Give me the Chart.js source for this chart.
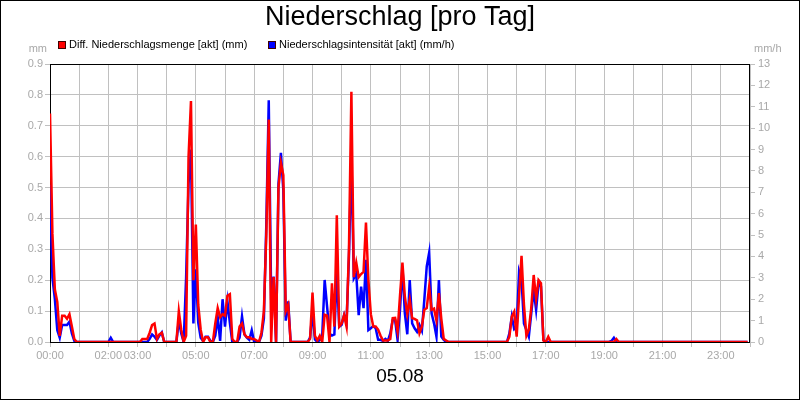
<!DOCTYPE html>
<html lang="de">
<head>
<meta charset="utf-8">
<title>Niederschlag [pro Tag]</title>
<script src="https://cdn.jsdelivr.net/npm/chart.js@4.4.1/dist/chart.umd.min.js"></script>
<style>
  html, body { margin: 0; padding: 0; background: #fff; }
  canvas { display: block; }
</style>
</head>
<body>
<canvas id="rainChart" width="800" height="400"></canvas>
<script>
// ===== Data (one value every 5 minutes, 05.08) =====
const chartTitle = "Niederschlag [pro Tag]";
const dayLabel = "05.08";
const stepMinutes = 5;
const seriesNames = ["Diff. Niederschlagsmenge [akt] (mm)", "Niederschlagsintensität [akt] (mm/h)"];
const shownHours = ["00:00", "02:00", "03:00", "05:00", "07:00", "09:00", "11:00",
                    "13:00", "15:00", "17:00", "19:00", "21:00", "23:00"];

// mm per 5 minutes (left axis), one row per hour
const diffAmountMm = [
    0.74, 0.35, 0.17, 0.13, 0.02, 0.085, 0.085, 0.075, 0.09, 0.05, 0.01, 0,
    0, 0, 0, 0, 0, 0, 0, 0, 0, 0, 0, 0,
    0, 0, 0, 0, 0, 0, 0, 0, 0, 0, 0, 0,
    0, 0, 0.01, 0.01, 0.01, 0.03, 0.055, 0.06, 0.01, 0.025, 0.03, 0,
    0, 0, 0, 0, 0, 0.1, 0.04, 0, 0.02, 0.6, 0.78, 0.2,
    0.38, 0.12, 0.04, 0, 0.015, 0.015, 0, 0, 0.06, 0.11, 0.08, 0.09,
    0.085, 0.15, 0.155, 0.01, 0, 0, 0.05, 0.06, 0.025, 0.015, 0.015, 0.01,
    0.01, 0.005, 0, 0.03, 0.1, 0.35, 0.72, 0, 0.21, 0, 0.5, 0.58,
    0.54, 0.1, 0.12, 0, 0, 0, 0, 0, 0, 0, 0, 0.01,
    0.16, 0.02, 0.005, 0.02, 0, 0.088, 0.085, 0, 0.19, 0.05, 0.41, 0.05,
    0.06, 0.087, 0.05, 0.3, 0.81, 0.21, 0.257, 0.21, 0.22, 0.227, 0.387, 0.2,
    0.09, 0.05, 0.05, 0.04, 0.02, 0.005, 0.005, 0.005, 0.01, 0.077, 0.078, 0.034,
    0.15, 0.257, 0.147, 0.09, 0.137, 0.077, 0.075, 0.07, 0.028, 0.05, 0.104, 0.11,
    0.179, 0.104, 0.108, 0.07, 0.158, 0.075, 0.01, 0.005, 0, 0, 0, 0,
    0, 0, 0, 0, 0, 0, 0, 0, 0, 0, 0, 0,
    0, 0, 0, 0, 0, 0, 0, 0, 0, 0.017, 0.082, 0.098,
    0.017, 0.15, 0.279, 0.12, 0.02, 0.04, 0.11, 0.217, 0.14, 0.2, 0.19, 0.005,
    0, 0.017, 0, 0, 0, 0, 0, 0, 0, 0, 0, 0,
    0, 0, 0, 0, 0, 0, 0, 0, 0, 0, 0, 0,
    0, 0, 0, 0, 0, 0.01, 0, 0, 0, 0, 0, 0,
    0, 0, 0, 0, 0, 0, 0, 0, 0, 0, 0, 0,
    0, 0, 0, 0, 0, 0, 0, 0, 0, 0, 0, 0,
    0, 0, 0, 0, 0, 0, 0, 0, 0, 0, 0, 0,
    0, 0, 0, 0, 0, 0, 0, 0, 0, 0, 0, 0
];

// mm/h (right axis), one row per hour
const intensityMmH = [
    7.35, 3.0, 2.0, 0.55, 0.2, 0.8, 0.8, 0.8, 0.95, 0.4, 0.05, 0,
    0, 0, 0, 0, 0, 0, 0, 0, 0, 0, 0, 0,
    0, 0.2, 0, 0, 0, 0, 0, 0, 0, 0, 0, 0,
    0, 0, 0, 0, 0, 0.15, 0.35, 0.25, 0.1, 0.3, 0.45, 0,
    0, 0, 0, 0, 0, 1.0, 0.4, 0, 3.0, 7.4, 9.0, 0.87,
    3.4, 0.9, 0.2, 0.05, 0.25, 0.25, 0.05, 0, 0.3, 1.15, 0.05, 2.0,
    0.72, 1.9, 0.9, 0, 0, 0, 0.2, 1.2, 0.35, 0.2, 0.1, 0.55,
    0, 0, 0, 0.3, 1.1, 5.5, 11.3, 1.97, 3.06, 0, 7.4, 8.85,
    7.1, 1.0, 1.9, 0, 0, 0, 0, 0, 0, 0, 0, 0.2,
    1.42, 0.12, 0, 0.1, 0.3, 2.9, 1.65, 0.4, 0.3, 0.35, 3.3, 0.71,
    0.8, 1.26, 0.9, 4.0, 8.68, 2.98, 3.2, 1.26, 2.59, 1.58, 3.84, 0.56,
    0.64, 0.75, 0.64, 0.1, 0.1, 0.05, 0.15, 0.05, 0.4, 1.03, 1.03, 0.1,
    1.5, 3.53, 1.34, 0.36, 2.9, 0.87, 0.64, 0.48, 0.8, 0.53, 1.97, 3.53,
    4.18, 1.34, 0.87, 0.25, 2.9, 0.25, 0.1, 0, 0, 0, 0, 0,
    0, 0, 0, 0, 0, 0, 0, 0, 0, 0, 0, 0,
    0, 0, 0, 0, 0, 0, 0, 0, 0, 0.4, 1.19, 0.6,
    0.7, 3.3, 2.9, 0.87, 0.56, 0.25, 1.34, 2.44, 1.5, 2.75, 2.6, 0.1,
    0, 0, 0, 0, 0, 0, 0, 0, 0, 0, 0, 0,
    0, 0, 0, 0, 0, 0, 0, 0, 0, 0, 0, 0,
    0, 0, 0, 0.05, 0.2, 0, 0, 0, 0, 0, 0, 0,
    0, 0, 0, 0, 0, 0, 0, 0, 0, 0, 0, 0,
    0, 0, 0, 0, 0, 0, 0, 0, 0, 0, 0, 0,
    0, 0, 0, 0, 0, 0, 0, 0, 0, 0, 0, 0,
    0, 0, 0, 0, 0, 0, 0, 0, 0, 0, 0, 0
];

// ===== Look =====
const FONT = "'Liberation Sans', Arial, sans-serif";
const RED = "#ff0000";
const BLUE = "#0000ff";
const GRID_GRAY = "#c0c0c0";
const TICK_GRAY = "#a8a8a8";

// ===== Helpers =====
function toPoints(values) {
    return values.map((v, i) => ({ x: i * stepMinutes, y: v }));
}

function formatMinutes(m) {
    const h = Math.floor(m / 60);
    const min = Math.round(m % 60);
    return String(h).padStart(2, "0") + ":" + String(min).padStart(2, "0");
}

// ===== Frame, title, legend and unit labels =====
const decorations = {
    id: "decorations",
    beforeDraw(chart) {
        const ctx = chart.ctx;
        ctx.save();
        ctx.fillStyle = "#fff";
        ctx.fillRect(0, 0, chart.width, chart.height);
        ctx.restore();
    },
    beforeDatasetsDraw(chart) {
        // plot frame under the lines
        const ctx = chart.ctx;
        const a = chart.chartArea;
        ctx.save();
        ctx.strokeStyle = "#000";
        ctx.lineWidth = 1;
        const l = Math.round(a.left) + 0.5, t = Math.round(a.top) + 0.5;
        const r = Math.round(a.right) - 0.5, b = Math.round(a.bottom) + 0.5;
        ctx.strokeRect(l, t, r - l, b - t);
        ctx.restore();
    },
    afterDraw(chart) {
        const ctx = chart.ctx;
        ctx.save();

        // outer frame
        ctx.strokeStyle = "#000";
        ctx.lineWidth = 1;
        ctx.strokeRect(0.5, 0.5, chart.width - 1, chart.height - 1);

        // title
        ctx.fillStyle = "#000";
        ctx.textAlign = "center";
        ctx.textBaseline = "middle";
        ctx.font = "27px " + FONT;
        ctx.fillText(chartTitle, 400, 18);

        // legend
        ctx.font = "11px " + FONT;
        ctx.textAlign = "left";
        [[58, RED, seriesNames[0]], [268, BLUE, seriesNames[1]]].forEach(([x, color, name]) => {
            ctx.fillStyle = color;
            ctx.fillRect(x, 41, 8, 8);
            ctx.strokeStyle = "#400000";
            ctx.strokeRect(x + 0.5, 41.5, 7, 7);
            ctx.fillStyle = "#000";
            ctx.fillText(name, x + 11, 45);
        });

        // axis units
        ctx.fillStyle = TICK_GRAY;
        ctx.textAlign = "right";
        ctx.fillText("mm", 47, 49);
        ctx.textAlign = "left";
        ctx.fillText("mm/h", 754, 49);

        // day below the time axis
        ctx.fillStyle = "#000";
        ctx.textAlign = "center";
        ctx.font = "19px " + FONT;
        ctx.fillText(dayLabel, 400, 377);

        ctx.restore();
    }
};

// ===== Chart =====
const tickFont = { family: FONT, size: 11 };

new Chart(document.getElementById("rainChart"), {
    type: "line",
    data: {
        datasets: [
            {
                label: seriesNames[0],
                data: toPoints(diffAmountMm),
                yAxisID: "yMm",
                borderColor: RED,
                borderWidth: 2.5,
                pointRadius: 0,
                tension: 0
            },
            {
                label: seriesNames[1],
                data: toPoints(intensityMmH),
                yAxisID: "yMmH",
                borderColor: BLUE,
                borderWidth: 2.5,
                pointRadius: 0,
                tension: 0
            }
        ]
    },
    options: {
        responsive: false,
        animation: false,
        devicePixelRatio: 1,
        layout: { padding: { top: 64, left: 0, right: 0, bottom: 0 } },
        plugins: {
            legend: { display: false },
            title: { display: false },
            tooltip: { enabled: false }
        },
        scales: {
            x: {
                type: "linear",
                min: 0,
                max: 1440,
                afterFit: s => { s.height = 58; },
                ticks: {
                    stepSize: 60,
                    autoSkip: false,
                    maxRotation: 0,
                    padding: 2,
                    color: TICK_GRAY,
                    font: tickFont,
                    callback: v => shownHours.includes(formatMinutes(v)) ? formatMinutes(v) : ""
                },
                grid: { color: GRID_GRAY, lineWidth: 1, tickLength: 5 },
                border: { display: false }
            },
            yMm: {
                position: "left",
                min: 0,
                max: 0.9,
                afterFit: s => { s.width = 50; },
                ticks: {
                    stepSize: 0.1,
                    padding: 2,
                    color: TICK_GRAY,
                    font: tickFont,
                    callback: v => v.toFixed(1)
                },
                grid: { color: GRID_GRAY, lineWidth: 1, tickLength: 5 },
                border: { display: false }
            },
            yMmH: {
                position: "right",
                min: 0,
                max: 13,
                afterFit: s => { s.width = 50; },
                ticks: {
                    stepSize: 1,
                    padding: 3,
                    color: TICK_GRAY,
                    font: tickFont
                },
                grid: { drawOnChartArea: false, color: GRID_GRAY, lineWidth: 1, tickLength: 5 },
                border: { display: false }
            }
        }
    },
    plugins: [decorations]
});
</script>
</body>
</html>
